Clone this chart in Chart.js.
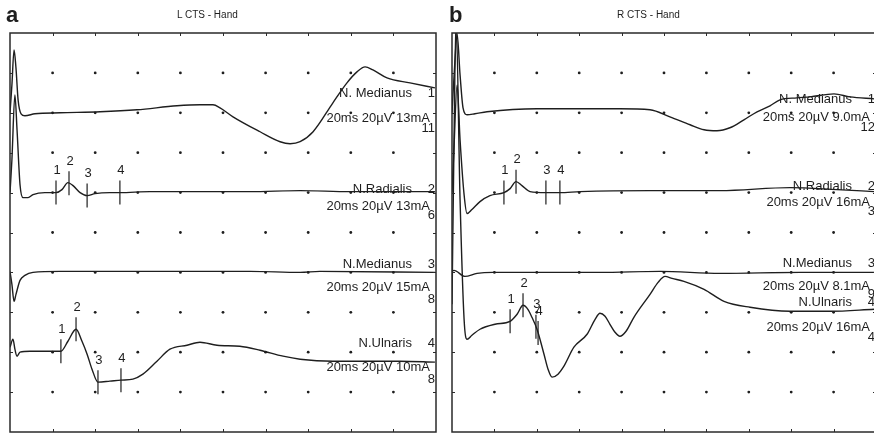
<!DOCTYPE html>
<html lang="en">
<head>
  <meta charset="UTF-8" />
  <title>CTS - Hand</title>
  <style>
    html, body {
      margin: 0;
      padding: 0;
      background: #fff;
      overflow: hidden;
    }
    body {
      position: relative;
      width: 874px;
      height: 433px;
      font-family: "Liberation Sans", Arial, sans-serif;
      color: #1e1e1e;
    }
    canvas { position: absolute; top: 0; }
    #chartA { left: 0; }
    #chartB { left: 437px; }
    .letter {
      position: absolute;
      top: 4px;
      font-size: 22px;
      line-height: 22px;
      font-weight: bold;
    }
    .title {
      position: absolute;
      top: 10px;
      font-size: 10px;
      line-height: 10px;
      white-space: nowrap;
    }
  </style>
</head>
<body>
  <canvas id="chartA" width="437" height="433"></canvas>
  <canvas id="chartB" width="440" height="433"></canvas>
  <div class="letter" style="left:6px">a</div>
  <div class="letter" style="left:449px">b</div>
  <div class="title" style="left:177px">L CTS - Hand</div>
  <div class="title" style="left:617px">R CTS - Hand</div>

  <script src="https://cdn.jsdelivr.net/npm/chart.js"></script>
  <script>
    // 20 ms per division across, 20 µV per division up, 10 x 10 divisions
    const UV_PER_DIV = 20;
    const gridX = [20, 40, 60, 80, 100, 120, 140, 160, 180];
    const gridY = [1, 2, 3, 4, 5, 6, 7, 8, 9];
    const markNames = ['1', '2', '3', '4'];

    // ---- a: left hand ----
    const aMed1T = [0, 0.9, 1.9, 2.8, 3.8, 5.2, 7.0, 11.7, 23.5, 42.3, 59.6, 78.4, 89.2, 95.3, 98.6, 104.7, 117.4, 126.8, 131.5, 136.2, 142.3, 151.6, 158.2, 162.9, 166.7, 170.4, 177.0, 187.8, 199.5];
    const aMed1V = [0, 14, 31.5, 22.5, 6.5, -0.5, -1.5, -0.5, 0, 0.5, 1.5, 3.5, 4, 4, 2.5, -2, -9.5, -14.5, -15.5, -14.5, -9.5, 5, 15, 20.5, 23, 21.5, 17.5, 15, 12.5];

    const aRad2T = [0, 0.9, 2.3, 3.3, 4.7, 6.1, 8.5, 10.8, 16.4, 21.6, 24.4, 27.2, 29.6, 32.9, 36.2, 39.9, 46.9, 51.6, 65.7, 89.2, 112.7, 136.2, 159.6, 183.1, 199.5];
    const aRad2V = [0, 16.5, 49, 31.5, 4, -2.5, -2.5, -1, 0, 0, 1.5, 5, 3.5, 0, -1.5, -0.5, 0, 0, 0.5, 0.5, 0.5, 1, 0.5, 0.5, 0.5];
    const aRad2Marks = [21.6, 27.7, 36.2, 51.6];

    const aMed3T = [0, 0.9, 1.9, 2.8, 4.7, 7.0, 10.8, 23.5, 65.7, 112.7, 136.2, 145.5, 199.5];
    const aMed3V = [0.5, -6, -14.5, -11, -4, -1.5, 0, 0.5, 0.5, 0.5, 0, 0.5, 0];

    const aUln4T = [0, 1.4, 2.3, 3.3, 4.7, 9.4, 23.9, 27.2, 31.0, 33.8, 36.2, 38.5, 41.3, 46.9, 52.1, 57.7, 62.4, 69.0, 75.1, 83.1, 89.2, 97.2, 107.9, 117.4, 128.2, 136.2, 151.6, 167.6, 183.1, 199.5];
    const aUln4V = [2.5, 6.5, 1.5, -2, 0, 0.5, 0.5, 5.5, 11.5, 5.5, -1, -8.5, -15, -14.5, -14, -13.5, -11, -4.5, 1.5, 3.5, 5, 3.5, 3, 1, -2, -3.5, -4.5, -4.5, -4.5, -5];
    const aUln4Marks = [23.9, 31.0, 41.3, 52.1];

    // ---- b: right hand ----
    const bMed1T = [0, 1.4, 2.4, 3.8, 5.2, 7.1, 10.8, 16.5, 40.1, 79.2, 93.4, 102.8, 112.3, 118.9, 125.0, 131.1, 137.7, 143.9, 150.0, 154.7, 162.7, 168.9, 180.2, 187.7, 199.1];
    const bMed1V = [0, 26.5, 39.5, 19, 2.5, -1, -0.5, 0.5, 2, 2, 1.5, -2, -6, -8.5, -9, -7.5, -3.5, 0.5, 3.5, 6.5, 7.5, 8, 9.5, 8, 7];

    const bRad2T = [0, 0.9, 2.4, 3.8, 5.7, 7.1, 9.4, 13.2, 17.9, 24.5, 27.4, 30.2, 33.0, 36.8, 44.3, 50.9, 60.4, 93.4, 126.4, 159.4, 181.6, 199.1];
    const bRad2V = [0, 21.5, 54, 26.5, -1, -10.5, -8.5, -4.5, -1.5, 0, 2, 5.5, 3.5, 0.5, 0, 0, 0.5, 1, 1, 2.5, 1.5, 0.5];
    const bRad2Marks = [24.5, 30.2, 44.3, 50.9];

    const bMed3T = [0, 0.9, 6.1, 11.8, 19.3, 69.8, 98.1, 126.4, 164.2, 199.1];
    const bMed3V = [0.5, 1, -2, -0.5, 0, 0, 0.5, -0.5, 0, 0];

    const bUln4T = [0, 0.9, 1.9, 3.8, 5.7, 7.1, 9.4, 13.2, 20.3, 27.4, 30.7, 33.5, 35.8, 37.7, 40.1, 43.4, 45.3, 47.2, 50.0, 52.8, 57.5, 63.7, 67.5, 69.8, 72.2, 74.5, 76.9, 79.2, 82.1, 85.8, 93.4, 97.2, 100.5, 103.8, 109.4, 118.9, 128.3, 140.6, 159.4, 178.3, 199.1];
    const bUln4V = [4, 81.5, 146.5, 56.5, -3.5, -13.5, -11.5, -8.5, -6, -4.5, -1, 3.5, 1.5, -2.5, -8.5, -21, -28.5, -32.5, -31, -27, -17.5, -11, -3.5, -0.5, -2, -6, -10, -12, -9.5, -2.5, 9, 15, 18, 17, 15.5, 11.5, 5.5, 2.5, 0.5, 0.5, 1.5];
    const bUln4Marks = [27.4, 33.5, 39.6, 40.6];

    // trace baselines (divisions from the bottom) and label rows [name, settings, sweep no.]
    const baseA = [8, 6, 4, 2];
    const baseB = [8, 6, 4, 3];
    const rowsA = [[8.48, 7.85, 7.6], [6.08, 5.65, 5.43], [4.2, 3.63, 3.33], [2.23, 1.63, 1.33]];
    const rowsB = [[8.33, 7.88, 7.63], [6.15, 5.75, 5.53], [4.23, 3.65, 3.45], [3.25, 2.63, 2.38]];

    const tracesA = [
      { name: 'N. Medianus', no: '1', info: '20ms 20µV 13mA', sweep: '11', t: aMed1T, uv: aMed1V, marks: [] },
      { name: 'N.Radialis', no: '2', info: '20ms 20µV 13mA', sweep: '6', t: aRad2T, uv: aRad2V, marks: aRad2Marks },
      { name: 'N.Medianus', no: '3', info: '20ms 20µV 15mA', sweep: '8', t: aMed3T, uv: aMed3V, marks: [] },
      { name: 'N.Ulnaris', no: '4', info: '20ms 20µV 10mA', sweep: '8', t: aUln4T, uv: aUln4V, marks: aUln4Marks }
    ];
    const tracesB = [
      { name: 'N. Medianus', no: '1', info: '20ms 20µV 9.0mA', sweep: '12', t: bMed1T, uv: bMed1V, marks: [] },
      { name: 'N.Radialis', no: '2', info: '20ms 20µV 16mA', sweep: '3', t: bRad2T, uv: bRad2V, marks: bRad2Marks },
      { name: 'N.Medianus', no: '3', info: '20ms 20µV 8.1mA', sweep: '9', t: bMed3T, uv: bMed3V, marks: [] },
      { name: 'N.Ulnaris', no: '4', info: '20ms 20µV 16mA', sweep: '4', t: bUln4T, uv: bUln4V, marks: bUln4Marks }
    ];

    const INK = '#1e1e1e';
    const FONT = '13px "Liberation Sans", Arial, sans-serif';

    function interp(ts, vs, t) {
      for (let i = 1; i < ts.length; i++) {
        if (t <= ts[i]) {
          const f = (t - ts[i - 1]) / (ts[i] - ts[i - 1]);
          return vs[i - 1] + f * (vs[i] - vs[i - 1]);
        }
      }
      return vs[vs.length - 1];
    }

    // box, border ticks, trace captions and latency numbers
    function screenPlugin(traces, rows) {
      return {
        id: 'screen',
        afterDatasetsDraw(chart) {
          const { ctx, chartArea: a, scales: { x, y } } = chart;
          ctx.save();
          ctx.strokeStyle = '#2a2a2a';
          ctx.lineWidth = 1.5;
          ctx.strokeRect(a.left, a.top, a.right - a.left, a.bottom - a.top);
          ctx.lineWidth = 1;
          ctx.beginPath();
          gridX.forEach(t => {
            const px = Math.round(x.getPixelForValue(t)) + 0.5;
            ctx.moveTo(px, a.top); ctx.lineTo(px, a.top + 3);
            ctx.moveTo(px, a.bottom); ctx.lineTo(px, a.bottom - 3);
          });
          gridY.forEach(v => {
            const py = Math.round(y.getPixelForValue(v)) + 0.5;
            ctx.moveTo(a.left, py); ctx.lineTo(a.left + 3, py);
            ctx.moveTo(a.right, py); ctx.lineTo(a.right - 3, py);
          });
          ctx.stroke();

          ctx.fillStyle = INK;
          ctx.font = FONT;
          ctx.textBaseline = 'middle';
          traces.forEach((tr, i) => {
            const [nameY, infoY, sweepY] = rows[i].map(v => y.getPixelForValue(v));
            ctx.textAlign = 'right';
            ctx.fillText(tr.name, a.right - 24, nameY);
            ctx.fillText(tr.no, a.right - 1, nameY);
            ctx.fillText(tr.info, a.right - 6, infoY);
            ctx.fillText(tr.sweep, a.right - 1, sweepY);
          });

          ctx.font = '13px "Liberation Sans", Arial, sans-serif';
          ctx.textAlign = 'center';
          chart.data.datasets.forEach((ds, i) => {
            if (!ds.markLabels) return;
            chart.getDatasetMeta(i).data.forEach((el, j) => {
              ctx.fillText(ds.markLabels[j], el.x + 1, el.y - 22);
            });
          });
          ctx.restore();
        }
      };
    }

    function buildPanel(id, traces, bases, rows, padLeft) {
      const datasets = [{
        data: gridX.flatMap(gx => gridY.map(gy => ({ x: gx, y: gy }))),
        showLine: false,
        pointRadius: 1.4,
        pointBorderWidth: 0,
        pointBackgroundColor: INK
      }];
      traces.forEach((tr, i) => {
        datasets.push({
          data: tr.t.map((t, k) => ({ x: t, y: bases[i] + tr.uv[k] / UV_PER_DIV })),
          borderColor: INK,
          borderWidth: 1.4,
          pointRadius: 0,
          cubicInterpolationMode: 'monotone'
        });
        if (tr.marks.length) {
          datasets.push({
            data: tr.marks.map(m => ({ x: m, y: bases[i] + interp(tr.t, tr.uv, m) / UV_PER_DIV })),
            showLine: false,
            pointStyle: 'line',
            rotation: 90,
            pointRadius: 12,
            pointBorderColor: INK,
            pointBorderWidth: 1.2,
            markLabels: markNames
          });
        }
      });

      new Chart(document.getElementById(id), {
        type: 'line',
        data: { datasets },
        options: {
          responsive: false,
          animation: false,
          events: [],
          layout: { autoPadding: false, padding: { left: padLeft, right: 1, top: 33, bottom: 1 } },
          scales: {
            x: { type: 'linear', min: 0, max: 200, display: false },
            y: { type: 'linear', min: 0, max: 10, display: false }
          },
          plugins: { legend: { display: false }, tooltip: { enabled: false } }
        },
        plugins: [screenPlugin(traces, rows)]
      });
    }

    buildPanel('chartA', tracesA, baseA, rowsA, 10);
    buildPanel('chartB', tracesB, baseB, rowsB, 15);
  </script>
</body>
</html>
